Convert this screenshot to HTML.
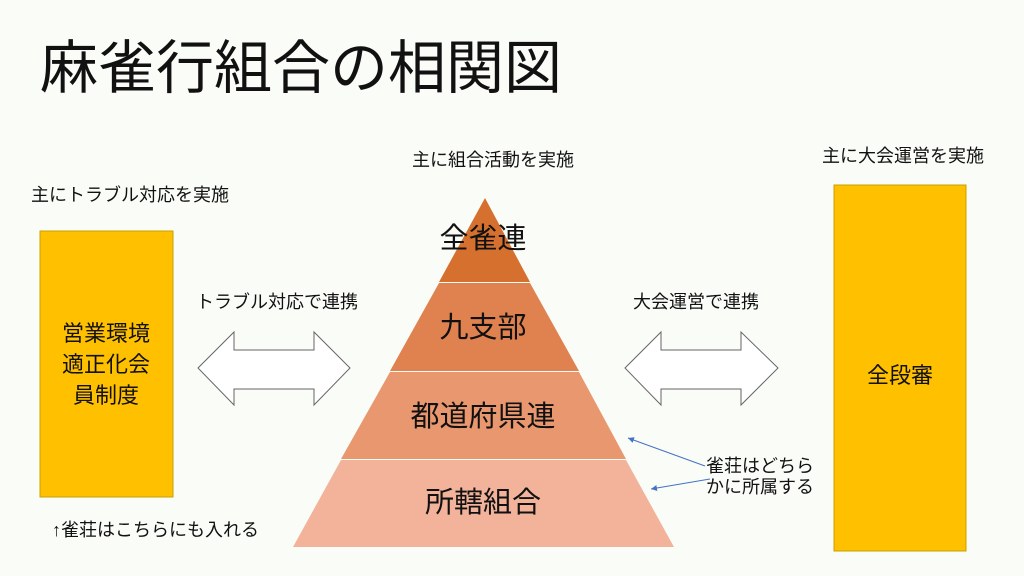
<!DOCTYPE html>
<html><head><meta charset="utf-8"><style>
body{margin:0;width:1024px;height:576px;background:#FAFCF8;overflow:hidden;position:relative;font-family:"Liberation Sans","Noto Sans CJK JP",sans-serif;color:#111}
.t{position:absolute;white-space:nowrap;line-height:1}
</style></head><body>
<div class="t" style="left:40px;top:40px;font-size:58px;">麻雀行組合の相関図</div>
<div class="t" style="left:412px;top:151px;font-size:18px;">主に組合活動を実施</div>
<div class="t" style="left:31px;top:186px;font-size:18px;">主にトラブル対応を実施</div>
<div class="t" style="left:822px;top:147px;font-size:18px;">主に大会運営を実施</div>
<div class="t" style="left:196px;top:293px;font-size:18px;">トラブル対応で連携</div>
<div class="t" style="left:633px;top:293px;font-size:18px;">大会運営で連携</div>
<div class="t" style="left:52px;top:521px;font-size:18px;">↑雀荘はこちらにも入れる</div>
<div class="t" style="left:706px;top:456px;font-size:18px;line-height:21px;">雀荘はどちら<br>かに所属する</div>
<svg width="1024" height="576" style="position:absolute;left:0;top:0">
<defs><marker id="a" markerWidth="8" markerHeight="8" refX="6" refY="3" orient="auto"><path d="M0,0L6,3L0,6z" fill="#4472C4"/></marker></defs>
<rect x="40" y="231" width="133" height="266" fill="#FFC000" stroke="#C9A100"/>
<rect x="834" y="185" width="132" height="366" fill="#FFC000" stroke="#C9A100"/>
<polygon points="485,198 530,282 439,282" fill="#D5702E"/>
<polygon points="439,283 530,283 579,371 390,371" fill="#E08150"/>
<polygon points="390,372 579,372 626,459 341,459" fill="#E9976E"/>
<polygon points="341,460 626,460 674,547 293,547" fill="#F2B39A"/>
<polygon points="198,368 234,332 234,350 314,350 314,332 350,368 314,405 314,389 234,389 234,405" fill="#fff" stroke="#666" stroke-width="1"/>
<polygon points="625,368 661,332 661,350 741,350 741,332 778,368 741,405 741,389 661,389 661,405" fill="#fff" stroke="#666" stroke-width="1"/>
<line x1="705" y1="466" x2="628" y2="438" stroke="#4472C4" stroke-width="1" marker-end="url(#a)"/>
<line x1="710" y1="479" x2="651" y2="489" stroke="#4472C4" stroke-width="1" marker-end="url(#a)"/>
<g font-family="Liberation Sans, Noto Sans CJK JP, sans-serif" font-size="29" fill="#111" text-anchor="middle">
<text x="483" y="248">全雀連</text>
<text x="483" y="337">九支部</text>
<text x="483" y="426">都道府県連</text>
<text x="483" y="512">所轄組合</text>
</g>
<g font-family="Liberation Sans, Noto Sans CJK JP, sans-serif" font-size="22" fill="#111" text-anchor="middle">
<text x="106" y="341">営業環境</text>
<text x="106" y="372">適正化会</text>
<text x="106" y="403">員制度</text>
<text x="900" y="383">全段審</text>
</g>
</svg>
</body></html>
